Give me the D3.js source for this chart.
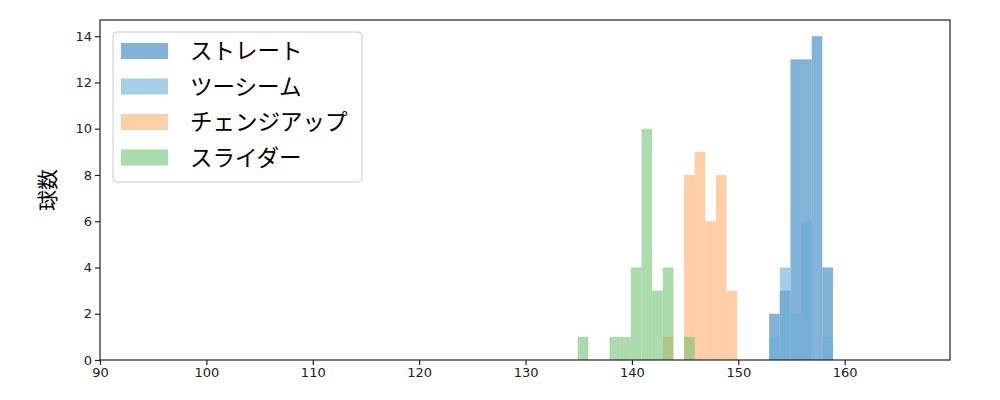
<!DOCTYPE html>
<html>
<head>
<meta charset="utf-8">
<script src="https://cdn.jsdelivr.net/npm/d3@7"></script>
<style>
  body { margin: 0; background: #fff; }
  svg text { font-family: "Noto Sans CJK JP", "DejaVu Sans", sans-serif; }
</style>
</head>
<body>
<div id="chart"></div>
<script>
// histogram bins (lower edge of first bin, bin width 1 km/h)
var pitchNames = ["ストレート", "ツーシーム", "チェンジアップ", "スライダー"];
var pitchColors = ["#3182bd", "#6baed6", "#fdae6b", "#74c476"];
var binStarts = [152.9, 152.9, 142.9, 134.9];
var straightCounts = [2, 3, 13, 13, 14, 4];
var twoSeamCounts = [1, 4, 2, 6, 0, 1];
var changeupCounts = [1, 0, 8, 9, 6, 8, 3];
var sliderCounts = [1, 0, 0, 1, 1, 4, 10, 3, 4, 0, 1];
var xTicks = [90, 100, 110, 120, 130, 140, 150, 160];
var yTicks = [0, 2, 4, 6, 8, 10, 12, 14];
var binWidth = 1.0;

var width = 1000, height = 400;
var margin = {left: 100, right: 50, top: 20, bottom: 40};

var svg = d3.select("#chart").append("svg")
    .attr("width", width)
    .attr("height", height);

var x = d3.scaleLinear().domain([90, 169.9]).range([margin.left, width - margin.right]);
var y = d3.scaleLinear().domain([0, 14.7]).range([height - margin.bottom, margin.top]);

var allCounts = [straightCounts, twoSeamCounts, changeupCounts, sliderCounts];

allCounts.forEach(function(counts, i) {
    var bins = counts.map(function(c, j) {
        return {x0: binStarts[i] + j * binWidth, x1: binStarts[i] + (j + 1) * binWidth, n: c};
    }).filter(function(d) { return d.n > 0; });
    svg.append("g").selectAll("rect").data(bins).enter().append("rect")
        .attr("x", function(d) { return x(d.x0); })
        .attr("width", function(d) { return x(d.x1) - x(d.x0); })
        .attr("y", function(d) { return y(d.n); })
        .attr("height", function(d) { return y(0) - y(d.n); })
        .attr("fill", pitchColors[i])
        .attr("fill-opacity", 0.6);
});

// axes
var xAxis = svg.append("g")
    .attr("transform", "translate(0," + y(0) + ")")
    .call(d3.axisBottom(x).tickValues(xTicks).tickSize(5).tickPadding(3));
var yAxis = svg.append("g")
    .attr("transform", "translate(" + margin.left + ",0)")
    .call(d3.axisLeft(y).tickValues(yTicks).tickSize(5).tickPadding(3));

[xAxis, yAxis].forEach(function(a) {
    a.selectAll("text").attr("font-size", 13).attr("fill", "#222")
        .style("font-family", "'DejaVu Sans', sans-serif");
    a.selectAll("line").attr("stroke", "#222").attr("stroke-width", 1.2);
    a.select(".domain").remove();
});

// frame
svg.append("rect")
    .attr("x", margin.left).attr("y", margin.top)
    .attr("width", width - margin.left - margin.right)
    .attr("height", height - margin.top - margin.bottom)
    .attr("fill", "none").attr("stroke", "#222").attr("stroke-width", 1.2);

svg.append("text")
    .attr("transform", "translate(55," + ((margin.top + height - margin.bottom) / 2) + ") rotate(-90)")
    .attr("text-anchor", "middle")
    .attr("font-size", 21)
    .text("球数");

// legend
var legend = svg.append("g").attr("transform", "translate(113,32)");
legend.append("rect")
    .attr("width", 249).attr("height", 150)
    .attr("rx", 4)
    .attr("fill", "#fff").attr("fill-opacity", 0.8)
    .attr("stroke", "#ccc");
pitchNames.forEach(function(name, i) {
    var row = legend.append("g").attr("transform", "translate(0," + (19 + i * 35.5) + ")");
    row.append("rect")
        .attr("x", 8).attr("y", -8).attr("width", 47).attr("height", 16)
        .attr("fill", pitchColors[i]).attr("fill-opacity", 0.6);
    row.append("text")
        .attr("x", 77).attr("y", 8)
        .attr("font-size", 22.5)
        .text(name);
});
</script>
</body>
</html>
